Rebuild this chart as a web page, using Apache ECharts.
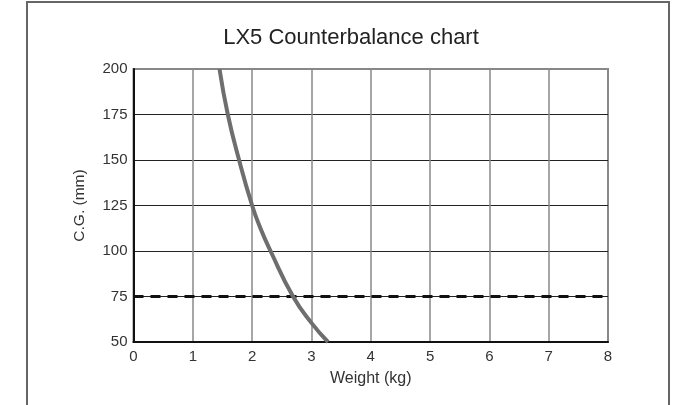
<!DOCTYPE html>
<html>
<head>
<meta charset="utf-8">
<script src="https://cdn.jsdelivr.net/npm/echarts@6/dist/echarts.min.js"></script>
<style>
html,body{margin:0;padding:0;background:#fff;}
#c{width:684px;height:405px;}
</style>
</head>
<body>
<div id="c"></div>
<script>
// Data
var titleText = 'LX5 Counterbalance chart';
var xAxisName = 'Weight (kg)';
var yAxisName = 'C.G. (mm)';
var curveWeight = [1.45, 1.59, 1.78, 2.0, 2.14, 2.31, 2.69, 3.0, 3.28];
var curveCG     = [200, 175, 150, 125, 112.5, 100, 75, 60.5, 50];
var limitCG = 75;
var xRange = [0, 8];
var yRange = [50, 200];

var curveData = curveWeight.map(function (w, i) { return [w, curveCG[i]]; });
var limitData = [[xRange[0], limitCG], [xRange[1], limitCG]];

var chart = echarts.init(document.getElementById('c'), null, {renderer: 'canvas'});
var font = 'Liberation Sans, Arial, Helvetica, sans-serif';
chart.setOption({
  animation: false,
  backgroundColor: '#fff',
  title: {
    text: titleText,
    left: 346,
    textAlign: 'center',
    top: 22,
    textStyle: {fontFamily: font, fontSize: 22, fontWeight: 'normal', color: '#222'}
  },
  graphic: [{
    type: 'rect',
    shape: {x: 27, y: 2, width: 642, height: 440},
    style: {fill: 'none', stroke: '#666', lineWidth: 2},
    silent: true,
    z: 0
  }],
  grid: {
    left: 133.5, right: 76, top: 69, bottom: 63,
    show: true, borderColor: '#888', borderWidth: 2, backgroundColor: 'transparent'
  },
  xAxis: {
    type: 'value', min: xRange[0], max: xRange[1], interval: 1,
    name: xAxisName, nameLocation: 'middle', nameGap: 29,
    nameTextStyle: {fontFamily: font, fontSize: 16, color: '#333'},
    axisLine: {show: true, lineStyle: {color: '#111', width: 2}},
    axisTick: {show: false},
    axisLabel: {fontFamily: font, fontSize: 15, color: '#333', margin: 7},
    splitLine: {show: true, showMinLine: false, showMaxLine: false, lineStyle: {color: '#888', width: 1.5}}
  },
  yAxis: {
    type: 'value', min: yRange[0], max: yRange[1], interval: 25,
    name: yAxisName, nameLocation: 'middle', nameGap: 46,
    nameTextStyle: {fontFamily: font, fontSize: 15.5, color: '#333'},
    axisLine: {show: true, lineStyle: {color: '#111', width: 2}},
    axisTick: {show: false},
    axisLabel: {fontFamily: font, fontSize: 15, color: '#333', margin: 6},
    splitLine: {show: true, showMinLine: false, showMaxLine: false, lineStyle: {color: '#222', width: 1}}
  },
  series: [{
    type: 'line',
    data: limitData,
    showSymbol: false,
    lineStyle: {color: '#111', width: 3, type: [10, 7]},
    z: 3
  }, {
    type: 'line',
    data: curveData,
    smooth: 0.5,
    showSymbol: false,
    lineStyle: {color: '#6e6e6e', width: 4},
    z: 4
  }]
});
</script>
</body>
</html>
